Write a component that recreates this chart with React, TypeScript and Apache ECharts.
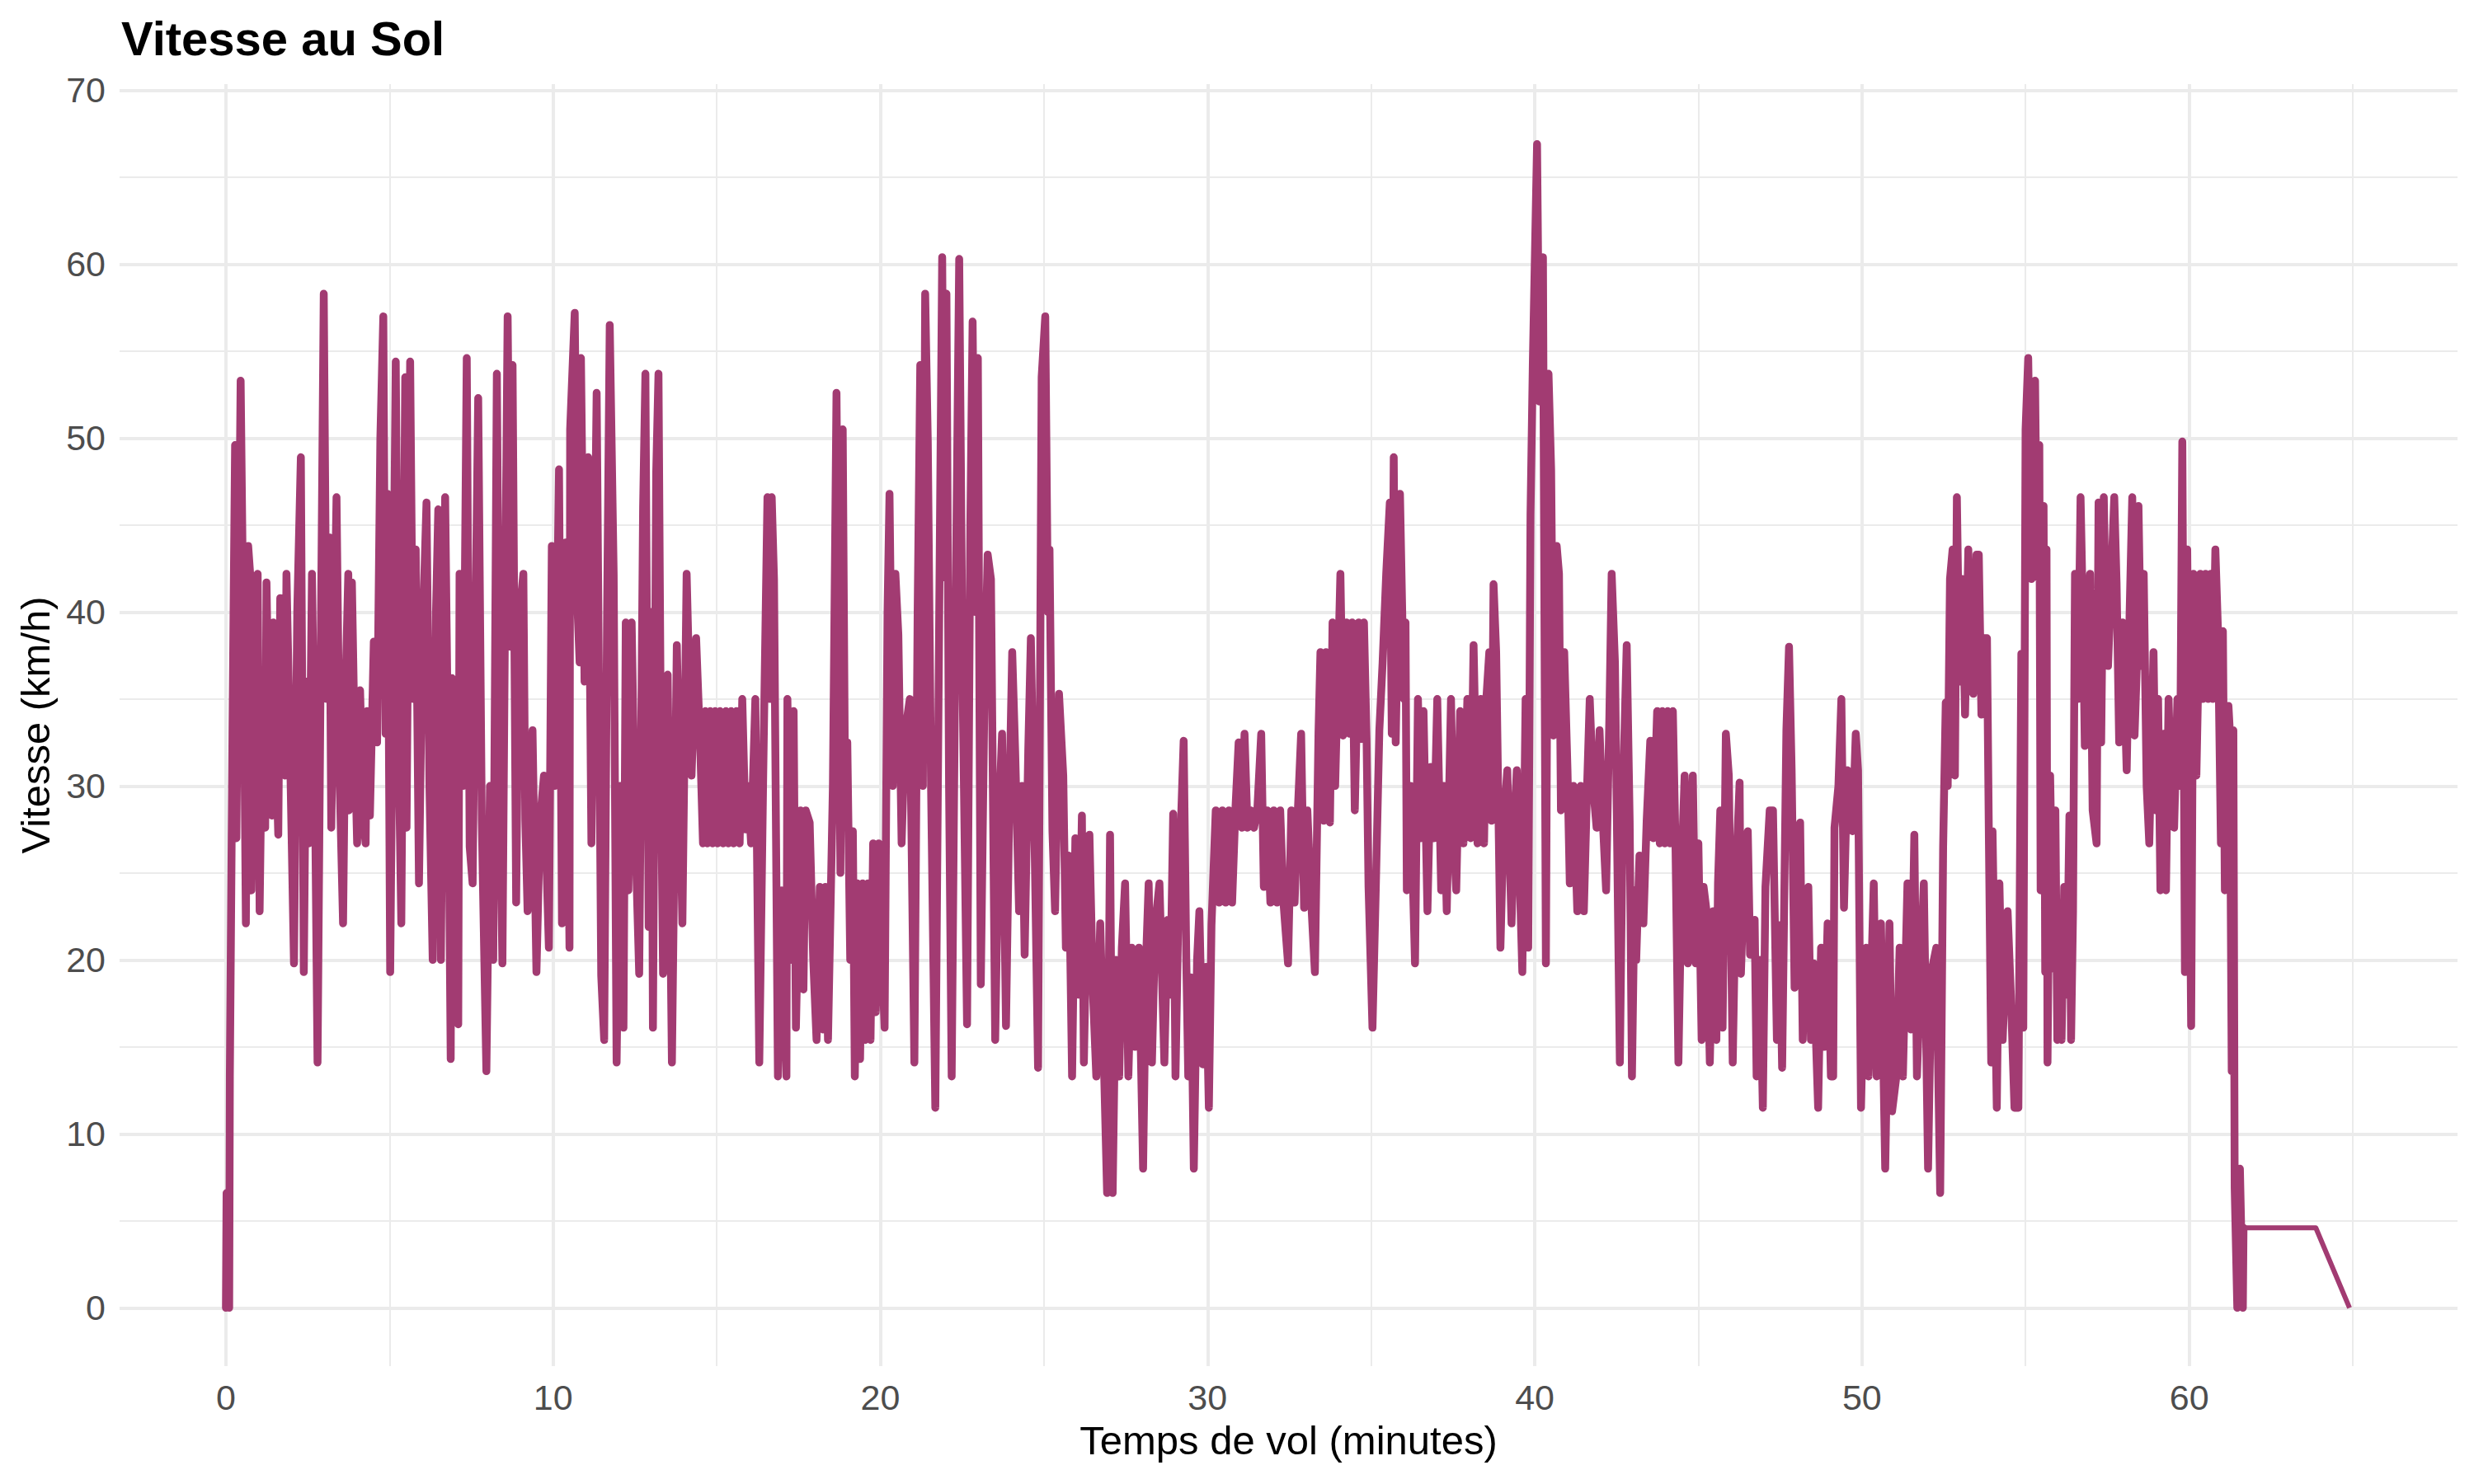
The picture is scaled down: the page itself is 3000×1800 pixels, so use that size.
import React, { useEffect, useRef } from "react";
import * as echarts from "echarts";

const FONT = "Liberation Sans";

const xMajorTicks = [0, 10, 20, 30, 40, 50, 60];
const xMinorTicks = [5, 15, 25, 35, 45, 55, 65];
const yMajorTicks = [0, 10, 20, 30, 40, 50, 60, 70];
const yMinorTicks = [5, 15, 25, 35, 45, 55, 65];

// [minutes, km/h]
const seg1: [number, number][] = [
  [0, 0], [0.02, 6.6], [0.1, 0], [0.12, 13.3], [0.2, 33], [0.28, 49.6], [0.32, 27], [0.45, 53.3], [0.55, 36], [0.61, 22.1],
  [0.68, 43.8], [0.74, 42.2], [0.78, 24], [0.88, 38], [0.97, 42.2], [1.03, 22.8], [1.12, 36], [1.2, 27.6], [1.24, 41.7], [1.33, 31],
  [1.41, 28.3], [1.45, 39.4], [1.53, 32], [1.6, 27.2], [1.66, 40.8], [1.81, 30.6], [1.85, 42.2], [1.95, 33], [2.08, 19.8], [2.18, 40],
  [2.29, 48.9], [2.38, 19.3], [2.46, 36], [2.54, 26.7], [2.63, 42.2], [2.72, 30], [2.8, 14.1], [2.9, 38], [2.99, 58.3], [3.08, 35],
  [3.16, 44.3], [3.22, 27.6], [3.38, 46.6], [3.48, 30], [3.58, 22.1], [3.66, 36], [3.74, 42.2], [3.76, 28.6], [3.85, 41.7], [3.93, 33],
  [4.01, 26.7], [4.1, 35.5], [4.2, 28], [4.27, 26.7], [4.31, 34.3], [4.4, 28.3], [4.52, 38.3], [4.62, 32.5], [4.72, 50], [4.81, 57],
  [4.88, 33], [4.94, 46.8], [5.02, 19.3], [5.12, 40], [5.19, 54.4], [5.28, 32], [5.36, 22.1], [5.48, 53.5], [5.52, 27.6], [5.63, 54.4],
  [5.72, 35], [5.8, 43.6], [5.9, 24.4], [6.0, 38], [6.13, 46.3], [6.22, 30], [6.32, 20], [6.42, 40], [6.49, 45.9], [6.57, 20],
  [6.65, 38], [6.7, 46.6], [6.8, 30], [6.87, 14.3], [6.91, 36.2], [7.0, 27], [7.1, 16.3], [7.14, 42.2], [7.25, 30], [7.36, 54.6],
  [7.45, 26.5], [7.54, 24.4], [7.63, 40], [7.71, 52.3], [7.82, 28], [7.96, 13.6], [8.07, 30], [8.17, 20], [8.28, 53.7], [8.37, 30],
  [8.45, 19.8], [8.53, 40], [8.61, 57], [8.7, 38], [8.76, 54.2], [8.87, 23.3], [8.95, 39.4], [9.09, 42.2], [9.15, 28], [9.22, 22.8],
  [9.3, 30], [9.37, 33.2], [9.49, 19.3], [9.6, 28], [9.72, 30.6], [9.87, 20.7], [9.96, 43.8], [10.05, 30], [10.18, 48.2], [10.27, 22.1],
  [10.38, 44], [10.5, 20.7], [10.52, 50.5], [10.66, 57.2], [10.75, 40], [10.81, 37.1], [10.85, 54.6], [10.96, 36], [11.07, 48.9], [11.17, 26.7],
];

const seg2: [number, number][] = [
  [11.33, 52.6], [11.47, 19.1], [11.56, 15.4], [11.65, 40], [11.73, 56.5], [11.85, 42.2], [11.94, 14.1], [12.05, 30], [12.15, 16.1], [12.22, 39.4],
  [12.3, 24], [12.4, 39.4], [12.5, 28], [12.63, 19.2], [12.75, 46], [12.82, 53.7], [12.92, 21.9], [13.0, 40], [13.05, 16.1], [13.15, 48],
  [13.22, 53.7], [13.3, 30], [13.36, 19.2], [13.5, 36.4], [13.63, 14.1], [13.78, 38.1], [13.95, 22.1], [14.08, 42.2], [14.23, 30.6], [14.37, 38.5],
  [14.5, 32], [14.58, 26.7], [14.65, 34.3], [14.72, 26.7], [14.8, 34.3], [14.88, 26.7], [14.95, 34.3], [15.03, 26.7], [15.1, 34.3], [15.2, 26.7],
  [15.28, 34.3], [15.36, 26.7], [15.44, 34.3], [15.52, 26.7], [15.6, 34.3], [15.7, 26.7], [15.78, 35], [15.88, 27.5], [15.95, 30], [16.05, 26.7],
  [16.18, 35], [16.3, 14.1], [16.42, 30.6], [16.55, 46.6], [16.62, 35], [16.68, 46.6], [16.75, 41.9], [16.87, 13.3], [16.98, 24], [17.05, 20],
  [17.13, 13.3], [17.16, 35], [17.28, 20], [17.35, 34.3], [17.42, 16.1], [17.56, 28.6], [17.65, 18.3], [17.72, 28.6], [17.84, 27.9], [17.95, 20],
  [18.05, 15.4], [18.15, 24.2], [18.25, 16], [18.32, 24.2], [18.4, 15.4], [18.55, 30], [18.66, 52.6], [18.78, 25], [18.85, 50.5], [18.92, 30],
  [18.99, 32.5], [19.08, 20], [19.16, 27.4], [19.22, 13.3], [19.3, 24.4], [19.38, 14.3], [19.46, 24.4], [19.54, 15.4], [19.62, 24.4], [19.7, 15.4],
  [19.78, 26.7], [19.86, 17], [19.95, 26.7], [20.05, 20], [20.13, 16.1], [20.22, 40], [20.28, 46.8], [20.38, 30], [20.46, 42.2], [20.55, 38.7],
  [20.65, 26.7], [20.75, 33], [20.9, 35], [21.04, 14.1], [21.14, 40], [21.22, 54.2], [21.3, 30], [21.37, 58.3], [21.45, 49.8], [21.55, 30],
  [21.68, 11.5], [21.8, 40], [21.89, 60.4], [21.95, 42], [22.02, 58.3], [22.1, 30], [22.18, 13.3],
];

const seg3: [number, number][] = [
  [22.3, 40], [22.41, 60.3], [22.52, 35], [22.65, 16.3], [22.75, 45], [22.82, 56.7], [22.9, 40], [22.98, 54.6], [23.07, 18.6], [23.18, 35],
  [23.28, 43.3], [23.38, 41.9], [23.51, 15.4], [23.62, 28], [23.72, 33], [23.84, 16.2], [23.95, 30], [24.03, 37.7], [24.12, 32], [24.24, 22.8],
  [24.33, 30], [24.41, 20.3], [24.52, 32], [24.6, 38.5], [24.72, 26], [24.82, 13.8], [24.93, 53.5], [25.04, 57], [25.12, 40], [25.17, 43.6],
  [25.26, 27.4], [25.34, 22.8], [25.46, 35.3], [25.59, 30.6], [25.67, 20.7], [25.76, 26], [25.86, 13.3], [25.96, 27], [26.06, 18], [26.16, 28.3],
  [26.22, 14.1], [26.3, 22], [26.39, 27.2], [26.5, 18], [26.6, 13.3], [26.72, 22.1], [26.82, 15], [26.93, 6.6], [27.02, 27.2], [27.1, 6.6],
  [27.2, 20], [27.3, 13.3], [27.38, 20.7], [27.48, 24.4], [27.58, 13.3], [27.68, 20.7], [27.78, 15], [27.9, 20.7], [28.03, 8], [28.12, 20],
  [28.2, 24.4], [28.3, 14.1], [28.4, 22], [28.53, 24.4], [28.68, 14.1], [28.78, 22.3], [28.86, 18], [28.95, 28.4], [29.02, 13.3], [29.12, 24],
  [29.27, 32.6], [29.35, 20], [29.41, 13.3], [29.5, 19], [29.58, 8], [29.68, 20], [29.75, 22.8], [29.85, 14], [29.95, 19.6], [30.04, 11.5],
  [30.12, 22], [30.25, 28.6], [30.35, 23.3], [30.45, 28.6], [30.55, 23.3], [30.65, 28.6], [30.75, 23.3], [30.85, 28.6], [30.95, 32.5], [31.05, 27.6],
  [31.13, 33], [31.22, 27.6], [31.32, 28.6], [31.42, 27.6], [31.52, 28.6], [31.64, 33], [31.72, 24.2], [31.82, 28.6], [31.92, 23.3], [32.02, 28.6],
  [32.12, 23.3], [32.22, 28.6], [32.32, 23.3], [32.46, 19.8], [32.56, 28.6], [32.66, 23.3], [32.76, 28.6], [32.86, 33], [32.95, 23], [33.05, 28.6],
  [33.15, 24], [33.28, 19.3], [33.39, 33],
];

const seg4: [number, number][] = [
  [33.45, 37.7], [33.55, 28], [33.62, 37.7], [33.74, 27.9], [33.82, 39.4], [33.9, 30], [34.06, 42.2], [34.14, 32.9], [34.24, 39.4], [34.34, 33],
  [34.42, 39.4], [34.5, 28.6], [34.62, 39.4], [34.7, 32.7], [34.78, 39.4], [34.86, 32.7], [34.92, 24.2], [35.04, 16.1], [35.14, 24], [35.25, 33.2],
  [35.35, 37.1], [35.46, 42.2], [35.57, 46.3], [35.63, 33], [35.69, 48.9], [35.75, 32.5], [35.88, 46.8], [36.0, 35], [36.05, 39.4], [36.09, 24],
  [36.2, 30], [36.34, 19.8], [36.43, 35], [36.52, 27], [36.6, 34.3], [36.72, 22.8], [36.82, 31.1], [36.92, 27], [37.02, 35], [37.14, 24],
  [37.22, 30], [37.31, 22.8], [37.44, 35], [37.52, 27], [37.6, 24], [37.72, 34.3], [37.82, 26.7], [37.94, 35], [38.04, 27], [38.13, 38.1],
  [38.25, 26.7], [38.35, 35], [38.45, 26.7], [38.52, 35], [38.61, 37.7], [38.68, 28], [38.74, 41.6], [38.82, 37.7], [38.95, 20.7], [39.05, 28],
  [39.16, 30.9], [39.29, 22.1], [39.38, 28], [39.45, 30.9], [39.55, 24], [39.62, 19.3], [39.72, 35], [39.8, 20.7], [39.87, 45.6], [39.94, 54.2],
  [40.07, 66.9], [40.14, 52.1], [40.25, 60.4], [40.34, 19.8], [40.42, 53.7], [40.5, 48.2], [40.57, 32.9], [40.67, 43.8], [40.74, 42.2], [40.8, 28.6],
  [40.9, 37.7], [41.0, 30.9], [41.07, 24.4], [41.18, 30], [41.3, 22.8], [41.4, 30], [41.5, 22.8], [41.6, 30], [41.68, 35], [41.78, 30],
  [41.89, 27.6], [41.98, 33.2], [42.08, 28], [42.18, 24], [42.28, 34], [42.35, 42.2], [42.45, 37.1], [42.6, 14.1], [42.7, 30], [42.81, 38.1],
  [42.9, 28], [42.97, 13.3], [43.05, 24], [43.1, 20], [43.2, 26], [43.32, 22.1], [43.42, 28], [43.53, 32.6], [43.62, 27], [43.74, 34.3],
  [43.82, 26.7], [43.9, 34.3], [43.98, 26.7], [44.06, 34.3], [44.14, 26.7], [44.22, 34.3], [44.3, 26.7], [44.39, 14.1],
];

const seg5: [number, number][] = [
  [44.5, 26], [44.58, 30.6], [44.68, 19.8], [44.76, 27], [44.83, 30.6], [44.92, 19.8], [45.0, 26.7], [45.1, 15.4], [45.16, 24.2], [45.25, 22.8],
  [45.35, 14.1], [45.45, 22.8], [45.55, 15.4], [45.6, 24.4], [45.67, 28.6], [45.74, 16.1], [45.84, 33], [45.93, 30.6], [46.05, 14.1], [46.15, 25],
  [46.26, 30.2], [46.3, 19.2], [46.42, 26], [46.51, 27.4], [46.58, 20.3], [46.72, 22.3], [46.78, 13.3], [46.88, 20], [46.97, 11.5], [47.05, 24.2],
  [47.18, 28.6], [47.28, 28.6], [47.4, 15.4], [47.48, 22], [47.56, 13.8], [47.69, 33.2], [47.77, 38], [47.85, 30.9], [47.94, 18.4], [48.02, 24],
  [48.11, 27.9], [48.19, 15.4], [48.28, 22], [48.36, 24.2], [48.44, 15.4], [48.52, 19.8], [48.66, 11.5], [48.75, 20.7], [48.85, 15], [48.95, 22.1],
  [49.05, 13.3], [49.12, 13.3], [49.16, 27.6], [49.28, 30], [49.37, 35], [49.45, 23], [49.55, 30.9], [49.62, 28], [49.71, 27.4], [49.81, 33],
  [49.88, 30.9], [49.97, 11.5], [50.05, 18], [50.13, 20.7], [50.2, 13.3], [50.36, 24.4], [50.45, 13.3], [50.58, 22.1], [50.71, 8], [50.84, 22.1],
  [50.92, 11.3], [51.05, 13.3], [51.15, 20.7], [51.25, 13.3], [51.39, 24.4], [51.5, 16], [51.6, 27.2], [51.68, 13.3], [51.8, 20], [51.89, 24.4],
  [52.02, 8], [52.12, 19.3], [52.27, 20.7], [52.39, 6.6], [52.48, 26.5], [52.56, 34.8], [52.62, 30], [52.69, 41.9], [52.77, 43.6], [52.84, 30.6],
  [52.9, 46.6], [52.98, 36], [53.06, 41.9], [53.15, 34.1], [53.25, 43.6], [53.32, 38], [53.4, 35.3], [53.5, 43.3], [53.57, 43.3], [53.65, 34.1],
  [53.72, 38.5], [53.82, 38.5], [53.88, 26.7], [53.95, 14.1], [53.99, 27.4], [54.12, 11.5], [54.2, 24.4], [54.3, 15.4], [54.45, 22.8], [54.55, 18],
  [54.66, 11.5], [54.78, 11.5], [54.87, 37.6], [54.93, 16.1], [55.0, 50.5], [55.08, 54.6], [55.18, 41.9], [55.29, 53.3], [55.35, 42], [55.42, 49.6],
];

const seg6: [number, number][] = [
  [55.46, 24], [55.5, 39], [55.55, 46.1], [55.6, 19.3], [55.64, 43.6], [55.67, 14.1], [55.75, 30.6], [55.85, 19.5], [55.91, 28.6], [55.97, 15.4],
  [56.05, 22], [56.1, 15.4], [56.18, 24.2], [56.26, 18], [56.34, 28.3], [56.39, 15.4], [56.45, 22.8], [56.51, 42.2], [56.6, 35], [56.68, 46.6],
  [56.75, 40], [56.81, 32.3], [56.9, 40], [56.97, 42.2], [57.05, 28.6], [57.17, 26.7], [57.23, 46.3], [57.31, 32.5], [57.39, 46.6], [57.45, 40],
  [57.52, 36.9], [57.62, 42], [57.71, 46.6], [57.78, 41.7], [57.86, 32.5], [57.96, 39.4], [58.09, 30.9], [58.18, 40], [58.26, 46.6], [58.33, 32.9],
  [58.4, 36.9], [58.45, 46.1], [58.53, 36.9], [58.61, 42.2], [58.7, 30], [58.78, 26.7], [58.91, 37.7], [58.98, 28.6], [59.05, 35], [59.12, 24],
  [59.22, 33], [59.29, 24], [59.37, 35], [59.44, 30], [59.54, 27.6], [59.64, 35], [59.72, 30], [59.79, 49.8], [59.87, 19.3], [59.94, 43.6],
  [60.06, 16.2], [60.13, 42.2], [60.22, 30.6], [60.34, 42.2], [60.42, 35], [60.5, 42.2], [60.58, 35], [60.66, 42.2], [60.72, 35], [60.8, 43.6],
  [60.88, 38.9], [60.97, 26.7], [61.03, 38.9], [61.09, 24], [61.2, 34.6], [61.24, 33.2], [61.3, 13.6], [61.35, 33.2], [61.39, 6.9], [61.47, 0],
  [61.55, 8], [61.64, 0], [61.66, 4.6],
];

// landing tail: hovering at low speed then stop
const tail: [number, number][] = [[61.66, 4.6], [63.87, 4.6], [64.9, 0]];

const flight: [number, number][] = [...seg1, ...seg2, ...seg3, ...seg4, ...seg5, ...seg6];

const X_MIN = -3.25;
const X_MAX = 68.2;
const Y_MIN = -3.35;
const Y_MAX = 70.35;

const LINE_COLOR = "#A23B72";

export default function App() {
  const ref = useRef<HTMLDivElement>(null);

  useEffect(() => {
    if (!ref.current) return;
    const chart = echarts.init(ref.current, null, { renderer: "svg" });
    const grid = "#EBEBEB";
    const option: any = {
      animation: false,
      backgroundColor: "#FFFFFF",
      title: {
        text: "Vitesse au Sol",
        left: 147,
        top: 17,
        padding: 0,
        textStyle: { fontFamily: FONT, fontWeight: "bold", fontSize: 58, color: "#000000" },
      },
      grid: { left: 145, right: 20, top: 102, bottom: 143, containLabel: false, outerBoundsMode: "none" },
      xAxis: [
        {
          type: "value",
          min: X_MIN,
          max: X_MAX,
          axisLine: { show: false },
          axisTick: { show: false, customValues: xMajorTicks },
          axisLabel: { customValues: xMajorTicks, fontFamily: FONT, fontSize: 43, color: "#4D4D4D", margin: 16 },
          splitLine: { show: true, lineStyle: { color: grid, width: 4 } },
          name: "Temps de vol (minutes)",
          nameLocation: "middle",
          nameGap: 65,
          nameTextStyle: { fontFamily: FONT, fontSize: 49, color: "#000000" },
        },
        {
          type: "value",
          min: X_MIN,
          max: X_MAX,
          axisLine: { show: false },
          axisTick: { show: false, customValues: xMinorTicks },
          axisLabel: { show: false },
          splitLine: { show: true, lineStyle: { color: grid, width: 2 } },
        },
      ],
      yAxis: [
        {
          type: "value",
          min: Y_MIN,
          max: Y_MAX,
          axisLine: { show: false },
          axisTick: { show: false, customValues: yMajorTicks },
          axisLabel: { customValues: yMajorTicks, fontFamily: FONT, fontSize: 43, color: "#4D4D4D", margin: 17 },
          splitLine: { show: true, lineStyle: { color: grid, width: 4 } },
          name: "Vitesse (km/h)",
          nameLocation: "middle",
          nameGap: 78,
          nameTextStyle: { fontFamily: FONT, fontSize: 49, color: "#000000" },
        },
        {
          type: "value",
          min: Y_MIN,
          max: Y_MAX,
          position: "left",
          axisLine: { show: false },
          axisTick: { show: false, customValues: yMinorTicks },
          axisLabel: { show: false },
          splitLine: { show: true, lineStyle: { color: grid, width: 2 } },
        },
      ],
      series: [
        {
          type: "line",
          data: flight,
          xAxisIndex: 0,
          yAxisIndex: 0,
          showSymbol: false,
          symbol: "none",
          silent: true,
          clip: true,
          z: 5,
          lineStyle: { color: LINE_COLOR, width: 9.5, cap: "round", join: "round" },
          itemStyle: { color: LINE_COLOR },
        },
        {
          type: "line",
          data: tail,
          xAxisIndex: 0,
          yAxisIndex: 0,
          showSymbol: false,
          symbol: "none",
          silent: true,
          clip: true,
          z: 5,
          lineStyle: { color: LINE_COLOR, width: 6, cap: "butt", join: "round" },
          itemStyle: { color: LINE_COLOR },
        },
      ],
    };
    chart.setOption(option);
    return () => chart.dispose();
  }, []);

  return (
    <div
      ref={ref}
      style={{ position: "absolute", left: 0, top: 0, width: 3000, height: 1800, background: "#FFFFFF" }}
    />
  );
}
